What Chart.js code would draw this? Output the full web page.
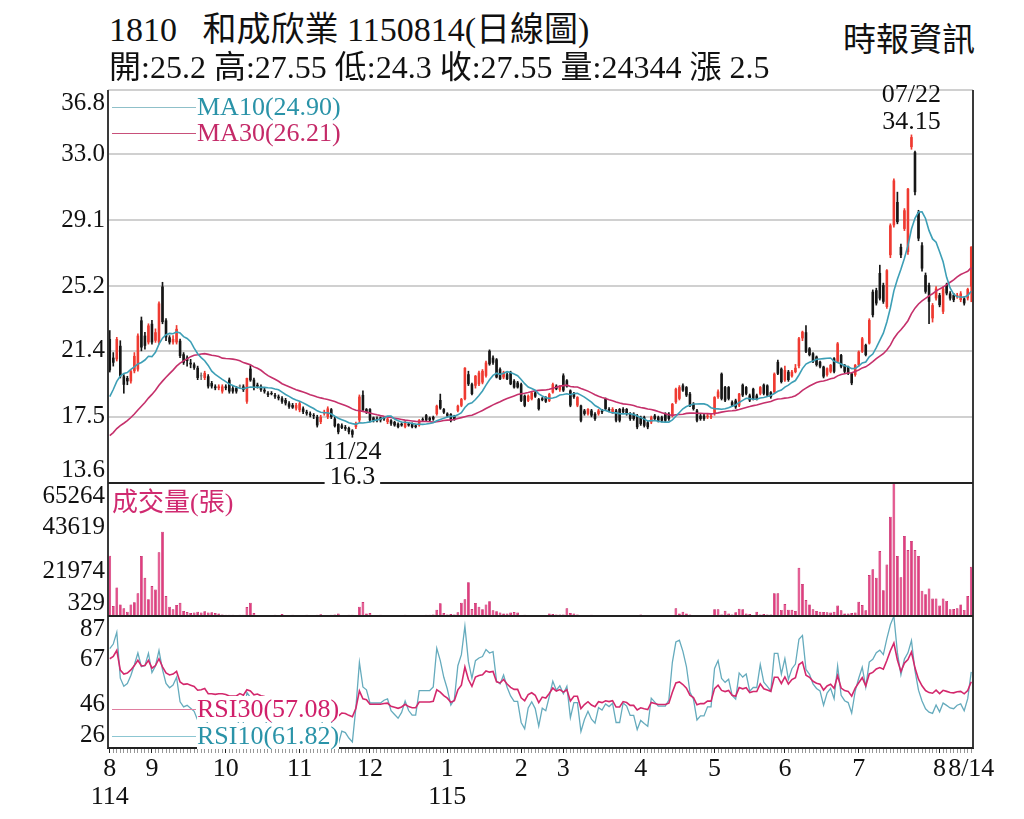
<!DOCTYPE html>
<html lang="zh-Hant">
<head>
<meta charset="utf-8">
<title>1810 和成欣業 日線圖</title>
<script src="https://cdn.jsdelivr.net/npm/chart.js@4.4.1/dist/chart.umd.min.js"></script>
<style>
   body { margin:0; background:#fff; width:1024px; height:819px; position:relative; overflow:hidden;
      font-family:"Liberation Serif","Noto Sans CJK TC",serif; color:#111; }
   .txt { position:absolute; white-space:nowrap; z-index:10; }
   .leg { font-size:26px; line-height:26px; }
   .seg { position:absolute; left:112px; width:84px; height:0; border-top:1.5px solid; z-index:10; }
   canvas { position:absolute; left:0; }
</style>
</head>
<body>
<div class="txt" style="left:109px; top:12px; font-size:34px; line-height:36px;">1810&nbsp;&nbsp;&nbsp;和成欣業 1150814(日線圖)</div>
<div class="txt" style="left:109px; top:50px; font-size:32px; line-height:34px;">開:25.2 高:27.55 低:24.3 收:27.55 量:24344 漲 2.5</div>
<div class="txt" style="right:49px; top:22px; font-size:33px; line-height:36px;">時報資訊</div>

<canvas id="priceChart" width="1024" height="420" style="top:80px; z-index:3;"></canvas>
<canvas id="volChart" width="1024" height="140" style="top:480px; z-index:2;"></canvas>
<canvas id="rsiChart" width="1024" height="207" style="top:612px; z-index:1;"></canvas>

<div class="seg" style="top:107px; border-color:#8fc0c9;"></div>
<div class="txt leg" style="left:197px; top:94px; color:#2a93a8;">MA10(24.90)</div>
<div class="seg" style="top:133px; border-color:#c8507a;"></div>
<div class="txt leg" style="left:197px; top:120px; color:#c42a68;">MA30(26.21)</div>
<div class="txt leg" style="left:112px; top:490px; color:#d02a70;">成交量(張)</div>
<div class="seg" style="top:709px; border-color:#e07ea0;"></div>
<div class="txt leg" style="left:197px; top:696px; color:#d0206a; background:#fff;">RSI30(57.08)</div>
<div class="seg" style="top:736px; border-color:#8cc6d2;"></div>
<div class="txt leg" style="left:197px; top:723px; color:#2a93a8; background:#fff;">RSI10(61.82)</div>

<script>
const monthNames = ['8', '9', '10', '11', '12', '1', '2', '3', '4', '5', '6', '7', '8'];
const monthDays = [12, 21, 21, 20, 22, 21, 12, 22, 21, 20, 21, 23, 10];
const yearNames = {0: '114', 5: '115'};
const lastDate = '8/14';
const extremeDates = ['07/22', '11/24'];
const priceTicks = [13.6, 17.5, 21.4, 25.2, 29.1, 33.0, 36.8];
const volTicks = [329, 21974, 43619, 65264];
const rsiTicks = [26, 46, 67, 87];

// closes before the first visible day, only feed MA / RSI
const priorClose = [15.4, 15.0, 14.7, 15.2, 15.0, 14.6, 14.9, 15.3, 14.9, 15.0,
   15.1, 15.4, 15.0, 15.5, 15.8, 15.3, 15.5, 15.9, 15.6, 15.9,
   16.5, 17.3, 16.8, 17.9, 19.0, 18.3, 19.6, 20.6, 20.75];

const open = [22.1, 21.0, 20.9, 21.7, 19.9, 19.8, 19.6, 20.2, 20.3, 23.2,
   22.3, 21.9, 23.0, 22.0, 21.9, 25.2, 23.2, 22.2, 21.9, 21.9,
   22.0, 21.2, 21.0, 20.7, 20.6, 20.4, 19.9, 19.8, 19.9, 19.5,
   19.3, 19.2, 19.0, 19.3, 19.7, 19.2, 19.2, 19.3, 19.3, 18.4,
   20.35, 19.7, 19.4, 19.3, 19.1, 18.9, 18.9, 18.8, 18.7, 18.6,
   18.5, 18.3, 18.2, 18.0, 17.9, 18.0, 17.8, 17.7, 17.6, 17.5,
   17.2, 17.7, 17.5, 17.95, 17.4, 17.08, 17.0, 16.9, 16.85, 16.7,
   16.9, 17.3, 18.8, 17.96, 17.96, 17.47, 17.4, 17.47, 17.47, 17.2,
   17.3, 17.2, 17.1, 17.1, 16.9, 17.1, 17.1, 17.0, 17.0, 17.37,
   17.6, 17.45, 17.5, 17.67, 18.5, 17.96, 17.7, 17.67, 17.57, 17.86,
   18.16, 18.55, 20.02, 19.43, 19.34, 19.43, 19.53, 19.93, 21.4, 21.0,
   20.9, 20.32, 19.83, 20.02, 20.12, 19.63, 19.53, 19.43, 18.75, 18.45,
   18.55, 18.94, 18.55, 18.6, 18.65, 18.45, 18.94, 19.34, 19.1, 19.95,
   19.66, 19.06, 18.87, 18.17, 18.17, 17.88, 17.68, 17.88, 17.68, 17.68,
   17.88, 18.57, 17.97, 17.78, 17.88, 17.97, 17.97, 17.97, 17.68, 17.68,
   17.58, 17.48, 17.48, 17.18, 17.18, 17.58, 17.48, 17.48, 17.68, 17.68,
   17.58, 18.37, 18.57, 19.36, 19.26, 18.87, 18.27, 17.88, 17.58, 17.58,
   17.48, 17.48, 17.68, 18.67, 20.05, 19.26, 19.26, 18.37, 18.47, 18.17,
   19.4, 19.26, 18.77, 19.16, 18.77, 18.87, 19.4, 19.36, 18.96, 18.96,
   20.75, 20.35, 19.66, 20.17, 19.9, 20.15, 20.5, 22.14, 22.5, 21.55,
   21.25, 21.06, 20.76, 20.47, 19.98, 20.17, 20.96, 20.76, 21.15, 20.57,
   20.47, 20.07, 19.98, 20.57, 21.35, 21.75, 21.84, 24.89, 24.98, 26.0,
   25.28, 23.99, 27.05, 28.81, 30.19, 27.54, 28.6, 27.24, 33.43, 33.13,
   29.6, 27.63, 25.87, 25.28, 23.32, 24.5, 24.69, 23.71, 25.28, 24.79,
   24.69, 24.6, 24.4, 24.49, 24.5, 25.2];

const high = [22.6, 21.3, 22.2, 22.0, 20.0, 19.9, 20.3, 21.3, 22.4, 23.4,
   22.5, 23.0, 23.2, 22.7, 24.3, 25.45, 23.3, 22.3, 22.3, 22.9,
   22.1, 21.3, 21.1, 20.9, 20.7, 20.5, 20.1, 20.2, 20.0, 19.6,
   19.4, 19.4, 19.4, 19.4, 19.8, 19.3, 19.3, 19.4, 19.4, 19.8,
   20.54, 19.8, 19.5, 19.4, 19.2, 19.0, 19.0, 18.9, 18.8, 18.7,
   18.6, 18.4, 18.3, 18.3, 18.4, 18.1, 17.9, 17.8, 17.7, 17.6,
   17.6, 17.9, 18.1, 18.0, 17.5, 17.1, 17.1, 17.0, 16.9, 16.75,
   17.2, 18.8, 19.04, 18.0, 18.0, 17.5, 17.5, 17.5, 17.5, 17.45,
   17.35, 17.25, 17.15, 17.15, 17.25, 17.15, 17.15, 17.05, 17.35, 17.45,
   17.65, 17.5, 17.55, 18.2, 18.85, 18.0, 17.75, 17.7, 17.6, 18.2,
   18.6, 20.42, 20.2, 19.5, 19.95, 20.2, 20.3, 20.8, 21.46, 21.1,
   20.95, 20.4, 20.2, 20.1, 20.2, 19.7, 19.6, 19.5, 18.8, 18.8,
   19.0, 19.0, 18.6, 18.65, 18.7, 18.9, 19.5, 19.4, 19.35, 20.05,
   19.7, 19.1, 18.95, 18.7, 18.2, 17.95, 18.0, 17.95, 17.75, 17.95,
   17.95, 18.62, 18.05, 18.05, 17.95, 18.0, 18.05, 18.0, 17.75, 17.75,
   17.65, 17.55, 17.55, 17.25, 17.55, 17.65, 17.55, 17.55, 17.75, 17.75,
   18.3, 19.2, 19.35, 19.45, 19.3, 18.95, 18.35, 17.95, 17.65, 17.65,
   17.65, 17.65, 18.7, 19.1, 20.1, 19.3, 19.3, 18.45, 18.55, 18.9,
   19.45, 19.3, 18.85, 19.2, 18.85, 19.3, 19.45, 19.4, 19.0, 20.1,
   20.85, 20.4, 20.5, 20.25, 20.25, 20.6, 22.2, 22.57, 22.9, 21.6,
   21.3, 21.1, 20.8, 20.5, 20.4, 20.6, 21.0, 21.9, 21.2, 20.6,
   20.5, 20.1, 20.6, 21.4, 22.2, 21.8, 23.3, 25.0, 25.1, 26.46,
   25.4, 26.2, 28.9, 31.56, 30.77, 27.7, 29.8, 31.0, 34.15, 33.2,
   29.7, 27.8, 26.0, 25.4, 24.2, 25.2, 24.8, 25.2, 25.4, 24.9,
   24.8, 24.8, 24.9, 24.6, 25.1, 27.55];

const low = [20.15, 20.5, 20.8, 19.8, 18.9, 19.4, 19.5, 20.1, 20.2, 21.4,
   21.5, 21.8, 21.8, 21.9, 21.8, 23.0, 22.0, 21.8, 21.8, 21.8,
   21.0, 20.6, 20.5, 20.4, 20.3, 19.7, 19.7, 19.7, 19.2, 19.2,
   19.1, 19.1, 18.9, 19.1, 18.9, 18.9, 18.9, 19.2, 19.0, 18.3,
   19.6, 19.1, 19.2, 19.0, 18.9, 18.7, 18.8, 18.6, 18.5, 18.3,
   18.2, 18.0, 18.0, 17.9, 17.8, 17.7, 17.6, 17.5, 17.4, 16.9,
   17.1, 17.6, 17.4, 17.4, 16.9, 16.5, 16.8, 16.7, 16.5, 16.3,
   16.8, 17.2, 17.85, 17.7, 17.2, 17.2, 17.2, 17.2, 17.3, 17.1,
   17.0, 16.95, 16.85, 16.95, 16.85, 16.95, 16.85, 16.85, 16.95, 17.25,
   17.25, 17.25, 17.3, 17.6, 17.95, 17.7, 17.5, 17.2, 17.3, 17.8,
   18.1, 18.5, 19.35, 18.8, 19.2, 19.35, 19.45, 19.85, 20.55, 20.6,
   19.8, 19.7, 19.75, 19.7, 19.4, 19.2, 19.2, 18.4, 18.1, 18.4,
   18.5, 18.65, 17.9, 18.45, 18.35, 18.4, 18.9, 19.1, 19.0, 19.0,
   19.25, 18.1, 18.6, 18.1, 17.2, 17.6, 17.6, 17.5, 17.3, 17.6,
   17.7, 17.9, 17.8, 17.7, 17.2, 17.2, 17.7, 17.6, 17.3, 17.3,
   16.8, 17.0, 16.9, 16.8, 17.1, 17.3, 17.2, 17.2, 17.2, 17.3,
   17.5, 18.3, 18.5, 19.0, 18.7, 18.1, 17.9, 17.2, 17.3, 17.3,
   17.4, 17.4, 17.6, 18.6, 18.5, 18.4, 18.5, 18.1, 18.0, 18.1,
   18.7, 18.8, 18.4, 18.5, 18.5, 18.8, 18.8, 18.7, 18.6, 18.9,
   20.0, 19.5, 19.6, 19.6, 19.85, 20.1, 20.4, 22.0, 21.3, 21.1,
   20.7, 20.5, 20.4, 19.8, 19.9, 20.1, 20.1, 20.7, 20.4, 20.1,
   20.0, 19.4, 19.9, 20.5, 21.3, 21.1, 21.8, 23.4, 24.1, 24.4,
   24.2, 23.9, 26.9, 28.7, 28.9, 26.9, 28.5, 27.1, 33.3, 30.6,
   27.9, 26.1, 24.8, 23.0, 23.1, 24.4, 24.0, 23.6, 24.7, 24.4,
   24.3, 24.5, 24.3, 24.1, 24.4, 24.3];

const close = [20.25, 20.7, 22.1, 19.9, 19.4, 19.6, 20.2, 21.1, 22.3, 21.6,
   21.7, 22.9, 21.9, 22.5, 24.2, 23.1, 22.2, 21.9, 22.1, 22.7,
   21.1, 20.7, 20.8, 20.6, 20.4, 19.8, 19.9, 20.1, 19.3, 19.3,
   19.2, 19.3, 19.3, 19.2, 19.0, 19.0, 19.0, 19.3, 19.1, 19.8,
   19.66, 19.2, 19.3, 19.1, 19.0, 18.8, 18.85, 18.7, 18.6, 18.4,
   18.3, 18.1, 18.05, 18.2, 18.3, 17.8, 17.7, 17.6, 17.55, 17.0,
   17.5, 17.8, 18.0, 17.5, 16.95, 16.6, 16.85, 16.8, 16.6, 16.45,
   17.1, 18.7, 17.9, 17.8, 17.3, 17.3, 17.3, 17.3, 17.37, 17.4,
   17.1, 17.0, 16.9, 17.0, 17.2, 17.0, 16.9, 16.9, 17.3, 17.3,
   17.3, 17.3, 17.35, 18.16, 18.0, 17.76, 17.57, 17.27, 17.37, 18.16,
   18.55, 20.4, 19.43, 18.85, 19.93, 20.12, 20.22, 20.71, 20.61, 20.7,
   19.83, 19.73, 20.12, 19.73, 19.43, 19.24, 19.24, 18.45, 18.16, 18.75,
   18.94, 18.7, 17.96, 18.5, 18.4, 18.85, 19.43, 19.14, 19.3, 19.06,
   19.3, 18.17, 18.67, 18.67, 17.28, 17.68, 17.97, 17.58, 17.38, 17.88,
   17.78, 17.97, 17.88, 17.97, 17.28, 17.28, 17.78, 17.68, 17.38, 17.38,
   16.89, 17.08, 16.98, 16.89, 17.48, 17.38, 17.28, 17.28, 17.28, 17.38,
   18.27, 19.16, 19.26, 19.06, 18.77, 18.17, 17.97, 17.28, 17.38, 17.38,
   17.58, 17.58, 18.67, 19.0, 18.57, 18.47, 18.57, 18.17, 18.07, 18.87,
   18.77, 18.87, 18.47, 18.57, 18.57, 19.26, 18.87, 18.77, 18.67, 20.05,
   20.05, 19.56, 20.27, 19.68, 20.17, 20.4, 22.14, 22.53, 21.35, 21.15,
   20.76, 20.57, 20.47, 19.88, 20.37, 20.57, 20.17, 21.84, 20.47, 20.17,
   20.07, 19.49, 20.57, 21.35, 22.14, 21.15, 23.22, 23.51, 24.2, 24.49,
   24.3, 26.16, 28.81, 31.46, 29.0, 27.05, 29.7, 30.97, 34.02, 30.77,
   28.03, 26.26, 24.89, 24.3, 24.1, 25.08, 24.1, 25.08, 24.79, 24.49,
   24.4, 24.69, 24.79, 24.2, 25.05, 27.55];

const volume = [29800, 5200, 14300, 6000, 4100, 2400, 6000, 7000, 11400, 29600,
   19000, 8500, 15000, 13300, 31400, 41500, 10100, 4900, 3600, 5700,
   6800, 2800, 2300, 1800, 2000, 2400, 2000, 2600, 2000, 2100,
   1800, 1600, 1100, 1000, 900, 1000, 800, 900, 1000, 4700,
   6800, 1800, 800, 700, 800, 700, 800, 900, 700, 1300,
   800, 700, 900, 600, 800, 700, 1000, 800, 600, 900,
   1200, 700, 800, 900, 1100, 1500, 800, 700, 900, 1000,
   800, 4900, 7200, 1600, 1800, 800, 700, 900, 600, 800,
   700, 800, 600, 700, 900, 700, 800, 600, 700, 800,
   1000, 900, 1100, 3400, 6500, 1800, 1100, 1300, 1100, 2100,
   6800, 8500, 16800, 3700, 6700, 4900, 3600, 6000, 7500, 3100,
   2600, 2000, 1600, 1600, 2000, 2300, 2000, 800, 900, 700,
   800, 600, 700, 800, 700, 1600, 1300, 1100, 1100, 1100,
   4100, 1800, 1600, 1100, 800, 700, 800, 900, 700, 800,
   600, 700, 500, 600, 700, 600, 500, 600, 700, 600,
   500, 1100, 600, 500, 600, 700, 600, 500, 600, 700,
   600, 4100, 1600, 2400, 1600, 1100, 800, 700, 800, 600,
   700, 800, 3600, 3600, 1100, 2900, 1500, 1100, 2100, 3900,
   3600, 1500, 1300, 800, 2400, 1100, 1300, 1100, 1100, 11400,
   11400, 3300, 6200, 3400, 3400, 2800, 23900, 15900, 8100, 6000,
   3600, 2800, 2400, 2300, 2100, 2000, 2400, 5400, 3100, 1600,
   1600, 1800, 2000, 7300, 5700, 3100, 20300, 23100, 19000, 32100,
   12900, 25500, 48800, 65264, 29600, 19200, 39400, 32500, 36900, 32500,
   29600, 12700, 10900, 13800, 8900, 8900, 5400, 8900, 7700, 3600,
   3700, 4100, 6000, 3300, 10100, 24344];

Chart.defaults.font.family = '"Liberation Serif", "Noto Sans CJK TC", serif';

const labels = [], tickText = [], monthStart = new Set();
monthDays.forEach((n, m) => {
   for (let d = 0; d < n; d++) {
      const i = labels.length;
      labels.push(`${monthNames[m]}-${d + 1}`);
      if (d == 0) {
         monthStart.add(i);
         tickText.push(yearNames[m] ? [monthNames[m], yearNames[m]] : monthNames[m]);
      } else tickText.push('');
   }
});
tickText[tickText.length - 1] = lastDate;

const pre = priorClose.length;
const allClose = priorClose.concat(close);

function movingAvg(n) {
   return close.map((c, i) => {
      const end = pre + i + 1;
      const win = allClose.slice(Math.max(0, end - n), end);
      return win.reduce((a, b) => a + b, 0) / win.length;
   });
}

function calcRsi(n) {
   const out = [];
   let up = 0, dn = 0;
   for (let k = 1; k < allClose.length; k++) {
      const d = allClose[k] - allClose[k - 1], m = Math.min(k, n);
      up = (up * (m - 1) + Math.max(d, 0)) / m;
      dn = (dn * (m - 1) + Math.max(-d, 0)) / m;
      if (k >= pre) out.push(up + dn == 0 ? 50 : 100 * up / (up + dn));
   }
   return out;
}

const candleColor = close.map((c, i) => c > open[i] ? '#ef3a31' : c < open[i] ? '#161616' : '#777');

// y labels (kept inside the panel) and the dark frame
const panelDecor = {
   id: 'panelDecor',
   afterDraw(chart, args, opts) {
      const {ctx, chartArea: a, scales: {y}} = chart;
      ctx.save();
      ctx.font = '25px "Liberation Serif"';
      ctx.fillStyle = '#111';
      ctx.textAlign = 'right';
      ctx.textBaseline = 'middle';
      opts.ticks.forEach(v => {
         const py = Math.min(Math.max(y.getPixelForValue(v), a.top + 13), a.bottom - 13);
         ctx.fillText(opts.fmt(v), a.left - 3, py);
      });
      ctx.lineWidth = 2;
      ctx.strokeStyle = '#3a3a3a';
      ctx.beginPath();
      ctx.moveTo(a.left, a.top); ctx.lineTo(a.left, a.bottom);
      ctx.moveTo(a.right, a.top); ctx.lineTo(a.right, a.bottom);
      ctx.stroke();
      ctx.strokeStyle = '#222';
      ctx.beginPath();
      ctx.moveTo(a.left, a.bottom); ctx.lineTo(a.right, a.bottom);
      ctx.stroke();
      ctx.restore();
   }
};

// highest high / lowest low notes
const extremes = {
   id: 'extremes',
   afterDraw(chart) {
      const {ctx, scales: {x, y}} = chart;
      const hi = high.indexOf(Math.max(...high)), lo = low.indexOf(Math.min(...low));
      ctx.save();
      ctx.font = '26px "Liberation Serif"';
      ctx.textAlign = 'center';
      ctx.textBaseline = 'middle';
      ctx.fillStyle = '#111';
      let px = x.getPixelForValue(hi), py = y.getPixelForValue(high[hi]);
      ctx.fillText(extremeDates[0], px, py - 40);
      ctx.fillText(String(high[hi]), px, py - 13);
      px = x.getPixelForValue(lo); py = y.getPixelForValue(low[lo]);
      ctx.fillText(extremeDates[1], px, py + 15);
      const t = String(low[lo]), w = ctx.measureText(t).width + 10;
      ctx.fillStyle = '#fff';
      ctx.fillRect(px - w / 2, py + 29, w, 22);
      ctx.fillStyle = '#111';
      ctx.fillText(t, px, py + 40);
      ctx.restore();
   }
};

function yScale(min, max, ticks, gridColor) {
   return {
      min: min, max: max,
      afterBuildTicks: s => { s.ticks = ticks.map(v => ({value: v})); },
      afterFit: s => { s.width = 108; },
      ticks: {display: false},
      border: {display: false},
      grid: gridColor ? {color: gridColor, lineWidth: 2, drawTicks: false} : {display: false}
   };
}

function baseOptions(padTop, padBottom, yOpt, decor, xOpt) {
   return {
      responsive: false,
      animation: false,
      events: [],
      layout: {padding: {left: 0, right: 51, top: padTop, bottom: padBottom}},
      scales: {x: xOpt || {display: false, offset: true}, y: yOpt},
      plugins: {legend: {display: false}, tooltip: {enabled: false}, panelDecor: decor}
   };
}

new Chart(document.getElementById('priceChart'), {
   type: 'bar',
   data: {
      labels: labels,
      datasets: [
         {type: 'line', data: movingAvg(10), borderColor: '#3d9fb6', borderWidth: 1.6, pointRadius: 0, order: 0},
         {type: 'line', data: movingAvg(30), borderColor: '#c5306b', borderWidth: 1.6, pointRadius: 0, order: 1},
         {data: open.map((o, i) => [o, close[i]]), backgroundColor: candleColor, grouped: false,
            barPercentage: 0.74, categoryPercentage: 1, minBarLength: 1, order: 2},
         {data: low.map((l, i) => [l, high[i]]), backgroundColor: candleColor, grouped: false,
            barThickness: 1, order: 3}
      ]
   },
   options: baseOptions(10, 17,
      yScale(13.6, 36.8, priceTicks, c => c.tick.value == 13.6 ? 'rgba(0,0,0,0)' : '#d0d0d0'),
      {ticks: priceTicks, fmt: v => v.toFixed(1)}),
   plugins: [panelDecor, extremes]
});

new Chart(document.getElementById('volChart'), {
   type: 'bar',
   data: {
      labels: labels,
      datasets: [{data: volume, backgroundColor: '#e23c7e', borderColor: '#c0105a', borderWidth: 0.7,
         barPercentage: 0.78, categoryPercentage: 1}]
   },
   options: baseOptions(3, 4, yScale(329, 65264, volTicks), {ticks: volTicks, fmt: v => String(v)}),
   plugins: [panelDecor]
});

new Chart(document.getElementById('rsiChart'), {
   type: 'line',
   data: {
      labels: labels,
      datasets: [
         {data: calcRsi(30), borderColor: '#d3286c', borderWidth: 1.6, pointRadius: 0},
         {data: calcRsi(10), borderColor: '#65abbd', borderWidth: 1.3, pointRadius: 0}
      ]
   },
   options: baseOptions(4, 0, yScale(26, 87, rsiTicks), {ticks: rsiTicks, fmt: v => String(v)}, {
      offset: true,
      afterFit: s => { s.height = 71; },
      border: {display: true, color: '#222', width: 2},
      grid: {display: true, drawOnChartArea: false, drawTicks: true, tickLength: 5, offset: false,
         color: c => monthStart.has(c.index) ? '#222' : '#999', lineWidth: 1},
      ticks: {autoSkip: false, maxRotation: 0, padding: 3, color: '#111',
         font: {size: 26, lineHeight: 1.05}, callback: (v, i) => tickText[i]}
   }),
   plugins: [panelDecor]
});
</script>
</body>
</html>
